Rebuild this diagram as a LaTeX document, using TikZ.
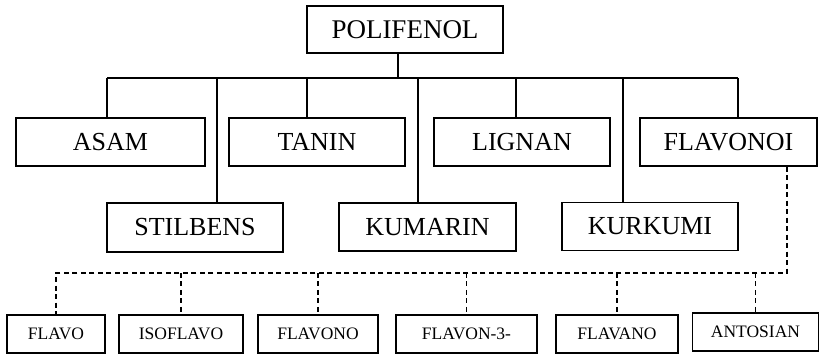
\documentclass[tikz,border=0pt]{standalone}
\usepackage{fontspec}
\setmainfont{Liberation Serif}
\usetikzlibrary{positioning}

\begin{document}
\begin{tikzpicture}[x=1pt,y=-1pt,
  k/.style={draw,line width=1.5pt,minimum width=176pt,minimum height=48pt,inner sep=0pt,font=\fontsize{26}{30}\selectfont},
  m/.style={draw,line width=1.5pt,minimum height=38pt,inner sep=0pt,font=\fontsize{17.5}{20}\selectfont},
  ln/.style={line width=1.5pt},
  dl/.style={line width=1.5pt,dash pattern=on 5pt off 3.5pt}]
\useasboundingbox (0,0) rectangle (820,355);
\node[k,minimum width=196pt,minimum height=47pt,font=\fontsize{27}{30}\selectfont] (p) at (405,29.5) {POLIFENOL};
\node[k,minimum width=189pt] (a) at (110.5,142) {ASAM};
\node[k] (t) at (317,142) {TANIN};
\node[k] (l) at (522,142) {LIGNAN};
\node[k,minimum width=177pt] (f) at (728.5,142) {FLAVONOI};
\node[k,minimum height=49pt] (s) at (195,227.5) {STILBENS};
\node[k,minimum width=177pt] (c) at (427.5,227) {KUMARIN};
\node[k] (r) at (650,226.5) {KURKUMI};
\node[m,minimum width=98pt] (m1) at (56,334) {FLAVO};
\node[m,minimum width=124pt] (m2) at (181,334) {ISOFLAVO};
\node[m,minimum width=120pt] (m3) at (318,334) {FLAVONO};
\node[m,minimum width=141pt] (m4) at (466.5,334) {FLAVON-3-};
\node[m,minimum width=122pt] (m5) at (617,334) {FLAVANO};
\node[m,minimum width=126pt] (m6) at (755.5,332) {ANTOSIAN};
% garis utama
\coordinate (j) at (398,78);
\coordinate (e) at (787,273);
\draw[ln] (j |- p.south) -- (j);
\foreach \n/\x in {a/107,s/217,t/307,c/418,l/516,r/623,f/738}{
  \coordinate (d\n) at (\x,78);
  \draw[ln] (d\n) -- (d\n |- \n.north);
}
\draw[ln] (da) -- (df);
% garis putus-putus
\draw[dl] (e |- f.south) -- (e) -- (e -| m1.north) -- (m1.north);
\foreach \n in {m2,m3,m4,m5,m6}
  \draw[dl] (\n.north |- e) -- (\n.north);
\end{tikzpicture}
\end{document}
